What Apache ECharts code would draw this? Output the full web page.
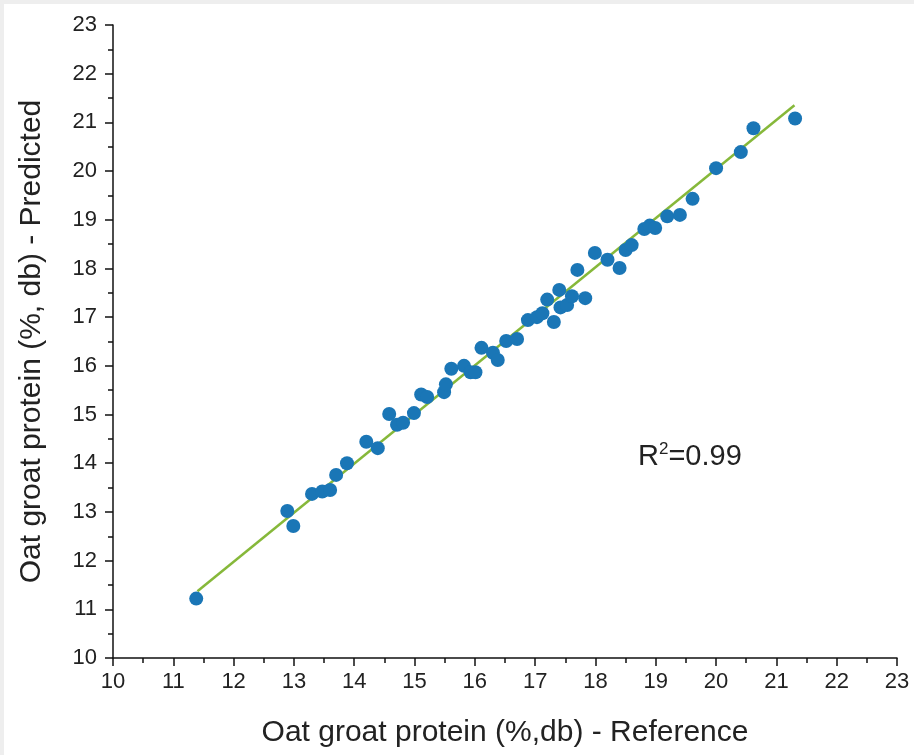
<!DOCTYPE html>
<html lang="en">
<head>
    <meta charset="UTF-8">
    <title>Oat groat protein - predicted vs reference</title>
    <script src="https://cdn.jsdelivr.net/npm/echarts@6/dist/echarts.min.js"></script>
    <style>
        html, body { margin: 0; padding: 0; background: #eeeeee; }
        #chart { position: absolute; left: 4px; top: 4px; width: 910px; height: 751px; background: #ffffff; }
    </style>
</head>
<body>
    <div id="chart"></div>
    <script>
        // reference (x) and predicted (y) protein, % db
        var refValues = [11.38, 12.89, 12.99, 13.30, 13.47, 13.60, 13.70, 13.88, 14.20, 14.39,
            14.58, 14.71, 14.81, 14.99, 15.11, 15.21, 15.49, 15.52, 15.61, 15.82,
            15.93, 16.01, 16.11, 16.30, 16.38, 16.52, 16.70, 16.88, 17.03, 17.12,
            17.20, 17.31, 17.40, 17.42, 17.53, 17.61, 17.70, 17.83, 17.99, 18.20,
            18.40, 18.50, 18.60, 18.81, 18.90, 18.99, 19.19, 19.40, 19.61, 20.00,
            20.41, 20.62, 21.31];
        var predValues = [11.22, 13.02, 12.71, 13.37, 13.42, 13.45, 13.76, 14.00, 14.44, 14.31,
            15.01, 14.79, 14.83, 15.03, 15.41, 15.36, 15.46, 15.62, 15.94, 16.00,
            15.87, 15.87, 16.37, 16.27, 16.12, 16.51, 16.55, 16.94, 17.00, 17.08,
            17.36, 16.90, 17.56, 17.20, 17.25, 17.43, 17.97, 17.39, 18.32, 18.18,
            18.01, 18.38, 18.48, 18.81, 18.88, 18.83, 19.07, 19.10, 19.43, 20.06,
            20.39, 20.88, 21.08];
        // fitted line ends
        var fitX = [11.4, 21.3];
        var fitY = [11.37, 21.35];
        var axisTicks = [10, 11, 12, 13, 14, 15, 16, 17, 18, 19, 20, 21, 22, 23];

        var points = refValues.map(function (v, i) { return [v, predValues[i]]; });
        var fitLine = fitX.map(function (v, i) { return [v, fitY[i]]; });

        var font = 'Liberation Sans, Arial, sans-serif';

        function valueAxis(name, gap, labelGap) {
            return {
                type: 'value',
                min: axisTicks[0],
                max: axisTicks[axisTicks.length - 1],
                interval: 1,
                name: name,
                nameLocation: 'middle',
                nameGap: gap,
                nameTextStyle: { fontFamily: font, fontSize: 30, color: '#222' },
                axisLine: { show: true, lineStyle: { color: '#111', width: 1.5 } },
                axisTick: { show: true, length: 8, lineStyle: { color: '#111', width: 1.5 } },
                minorTick: { show: true, splitNumber: 2, length: 5, lineStyle: { color: '#111', width: 1.5 } },
                axisLabel: { fontFamily: font, fontSize: 22, color: '#222', margin: labelGap },
                splitLine: { show: false }
            };
        }

        var myChart = echarts.init(document.getElementById('chart'));
        var option = {
            animation: false,
            grid: { left: 109, top: 21, right: 17, bottom: 97 },
            xAxis: valueAxis('Oat groat protein (%,db) - Reference', 60, 13),
            yAxis: valueAxis('Oat groat protein (%, db) - Predicted', 66, 16),
            series: [{
                type: 'line',
                data: fitLine,
                symbol: 'none',
                lineStyle: { color: '#86b83a', width: 2.5 },
                z: 1
            }, {
                type: 'scatter',
                data: points,
                symbol: 'circle',
                symbolSize: 14,
                itemStyle: { color: '#1a76b6', opacity: 1 },
                z: 2
            }],
            graphic: [{
                type: 'text',
                left: 634,
                top: 437,
                style: {
                    text: 'R{sup|2}=0.99',
                    fontFamily: font,
                    fontSize: 29,
                    fill: '#222',
                    rich: {
                        sup: { fontFamily: font, fontSize: 17, verticalAlign: 'top', padding: [0, 0, 14, 0] }
                    }
                }
            }]
        };
        myChart.setOption(option);
    </script>
</body>
</html>
